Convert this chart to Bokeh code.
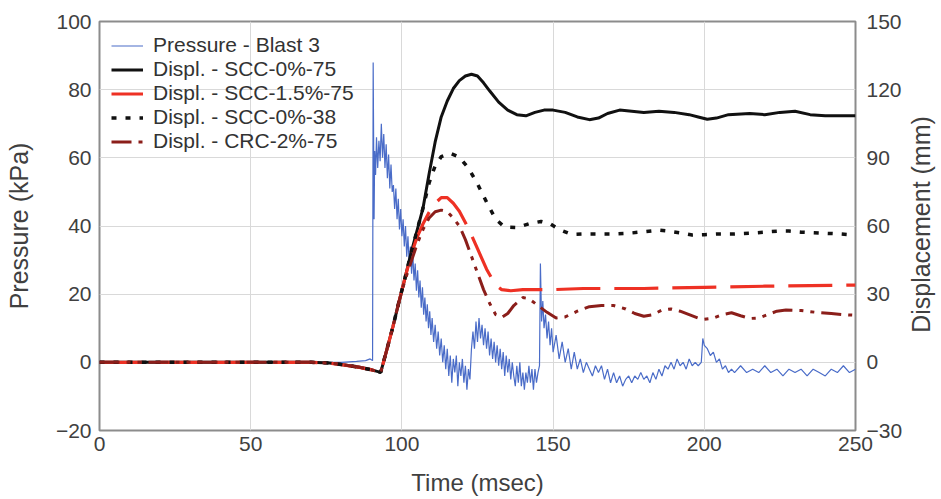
import math
from bokeh.plotting import figure
from bokeh.models import Range1d, LinearAxis, FixedTicker, Label
from bokeh.embed import file_html
from bokeh.resources import INLINE

# ---------------- data ----------------
x_ticks = [0, 50, 100, 150, 200, 250]
p_ticks = [-20, 0, 20, 40, 60, 80, 100]
d_ticks = [-30, 0, 30, 60, 90, 120, 150]

# Pressure - Blast 3 (kPa)
p_time = [0, 20, 40, 60, 80, 85, 88, 89.5, 90.3, 90.5,
          90.8, 91.0, 91.3, 91.6, 92.0, 92.4, 92.8, 93.2, 93.6, 94.0,
          94.4, 94.8, 95.2, 95.6, 96.0, 96.4, 96.8, 97.2, 97.6, 98.0,
          98.4, 98.8, 99.2, 99.6, 100.0, 100.4, 100.8, 101.2, 101.6, 102.0,
          102.4, 102.8, 103.2, 103.6, 104.0, 104.4, 104.8, 105.2, 105.6, 106.0,
          106.4, 106.8, 107.2, 107.6, 108.0, 108.4, 108.8, 109.2, 109.6, 110.0,
          110.5, 111, 111.5, 112, 112.5, 113, 113.5, 114, 114.5, 115,
          115.5, 116, 116.5, 117, 117.5, 118, 118.5, 119, 119.5, 120,
          120.5, 121, 121.5, 122, 122.5, 123, 123.5, 124, 124.5, 125,
          125.5, 126, 126.5, 127, 127.5, 128, 128.5, 129, 129.5, 130,
          130.5, 131, 131.5, 132, 132.5, 133, 133.5, 134, 134.5, 135,
          135.5, 136, 136.5, 137, 137.5, 138, 138.5, 139, 139.5, 140,
          140.5, 141, 141.5, 142, 142.5, 143, 143.5, 144, 144.5, 145,
          145.5, 145.8, 146.2, 146.6, 147, 147.5, 148, 148.5, 149, 149.5,
          150, 151, 152, 153, 154, 155, 156, 157, 158, 159,
          160, 161, 162, 163, 164, 165, 166, 167, 168, 169,
          170, 171, 172, 173, 174, 175, 176, 177, 178, 179,
          180, 181, 182, 183, 184, 185, 186, 187, 188, 189,
          190, 191, 192, 193, 194, 195, 196, 197, 198, 199,
          199.5, 200, 201, 202, 203, 204, 205, 206, 207, 208,
          209, 210, 212, 214, 216, 218, 220, 222, 224, 226,
          228, 230, 232, 234, 236, 238, 240, 242, 244, 246,
          248, 250]
p_kpa = [0, 0, 0, 0, 0, 0.3, 0.5, 1, 0.5, 88,
         42, 62, 55, 66, 57, 65, 59, 70, 60, 67,
         57, 64, 54, 61, 51, 58, 50, 52, 45, 51,
         42, 48, 39, 45, 37, 42, 34, 40, 31, 37,
         29, 34, 26, 32, 24, 29, 21, 27, 19, 24,
         16, 22, 14, 19, 12, 17, 10, 15, 8, 13,
         6, 11, 4, 9, 2, 7, 0, 5, -2, 4,
         -4, 2, -6, 1, -3, 2, -7, 0, -4, 1,
         -6, -1, -8, -2, -5, 4, 9, 4, 12, 6,
         13, 7, 11, 5, 10, 4, 9, 2, 7, 1,
         6, 0, 5, -1, 4, -2, 3, -4, 2, -3,
         1, -5, 0, -4, -7, -1, -6, 0, -7, -3,
         -8, -3, -6, -1, -6, -2, -8, -2, -6, -3,
         -1, 29, 12, 18, 10, 14, 7, 12, 5, 10,
         3, 8, 1, 6, 0, 4, -2, 3, -2, 1,
         -3, 0, -2, -4, -1, -3, -1, -5, -2, -6,
         -3, -6, -4, -7, -5, -4, -6, -4, -5, -3,
         -5, -4, -6, -3, -5, -2, -4, -1, -2, 0,
         -2, 1, -1, 0, -2, 1, -1, 0, -1, 0,
         7, 5, 4, 2, 3, 0, 1, -2, -1, -3,
         -2, -3, -1, -3, -2, -3, -1, -3, -2, -4,
         -2, -3, -2, -4, -2, -3, -4, -2, -3, -1,
         -3, -2]

# Displ. - SCC-0%-75 (mm)
d0_time = [0, 40, 70, 76, 80, 86, 90, 93,
           95, 97, 99, 101, 103, 105, 107, 109, 111, 113,
           115, 117, 119, 121, 123, 125, 127, 129, 132, 135,
           138, 141, 144, 147, 150, 154, 158, 162, 165, 168,
           172, 176, 180, 185, 190, 195, 198, 201, 204, 208,
           215, 220, 225, 230, 235, 240, 245, 250]
d0_mm = [0, 0, 0, -0.3, -1, -2.2, -3.3, -4.4,
         5.5, 15.5, 26.5, 37, 48, 58, 68, 83, 97, 108,
         115, 120.5, 124, 126, 126.8, 126, 123, 119.5, 114.5, 111,
         109, 108.5, 110, 111, 111, 110, 108, 106.8, 107.5, 109.5,
         111, 110.5, 110, 110.5, 110, 109, 108, 107, 107.5, 109,
         109.5, 109, 110, 110.5, 109, 108.5, 108.5, 108.5]

# Displ. - SCC-1.5%-75 (mm)
d1_time = [0, 40, 70, 76, 80, 86, 90, 93,
           95, 97, 99, 101, 103, 105, 107, 109, 111, 113,
           115, 117, 119, 122, 125, 128, 131, 133, 136, 140,
           150, 160, 170, 180, 200, 220, 250]
d1_mm = [0, 0, 0, -0.3, -1, -2.2, -3.3, -4.4,
         5.5, 15.5, 26.5, 37, 47, 55, 61, 66, 70, 72.5,
         72.5, 70, 66.5, 59, 50, 41, 34, 32, 31.5, 32,
         32, 32.5, 32.5, 32.5, 33, 33.5, 34]

# Displ. - SCC-0%-38 (mm)
d2_time = [0, 40, 70, 76, 80, 86, 90, 93,
           95, 97, 99, 101, 103, 105, 107, 109, 111, 113,
           116, 119, 122, 125, 128, 131, 134, 138, 142, 146,
           149, 152, 156, 160, 165, 170, 175, 180, 185, 188,
           192, 196, 200, 205, 210, 215, 220, 225, 228, 232,
           240, 245, 250]
d2_mm = [0, 0, 0, -0.3, -1, -2.2, -3.3, -4.4,
         5.5, 15.5, 26.5, 37, 48, 58, 68, 79, 86.5, 90.5,
         92, 90.3, 85.5, 78.5, 70.5, 63, 59.5, 59.3, 61, 62,
         61, 58.5, 56.3, 56.5, 56.5, 56.5, 56.8, 57.5, 58.2, 57.8,
         57, 56, 56.2, 56.5, 56.5, 56.8, 57.3, 57.8, 57.8, 57.3,
         56.8, 56.5, 56]

# Displ. - CRC-2%-75 (mm)
d3_time = [0, 40, 70, 76, 80, 86, 90, 93,
           95, 97, 99, 101, 103, 105, 107, 109, 111, 113,
           115, 117, 119, 121, 124, 127, 129, 131, 133, 135,
           137, 140, 142, 145, 148, 151, 154, 158, 162, 166,
           170, 174, 177, 180, 183, 186, 189, 192, 195, 198,
           200, 203, 206, 209, 212, 215, 218, 221, 224, 227,
           232, 237, 242, 246, 250]
d3_mm = [0, 0, 0, -0.3, -1, -2.2, -3.3, -4.4,
         5.5, 15.5, 26.5, 36, 44, 52, 58.5, 63.5, 66.3, 67,
         66.3, 63.5, 60, 54, 43, 32, 26, 21, 19.8, 21.5,
         25, 28.5, 28, 25, 22, 19.5, 20, 22.5, 24.5, 25,
         25, 23.5, 21.5, 20.3, 21, 23, 23.5, 22.5, 21, 19.5,
         19, 19.5, 21, 21.8, 20.5, 19.3, 19.5, 21, 22.5, 23,
         22.8, 22, 21.5, 21, 20.7]

# ---------------- figure ----------------
FONT = "Liberation Sans"
TXT = "#404040"

p = figure(width=941, height=499, output_backend="svg", toolbar_location=None,
           x_range=Range1d(0, 250), y_range=Range1d(-20, 100),
           min_border_left=99, min_border_right=86, min_border_top=21,
           min_border_bottom=69, background_fill_color="white",
           border_fill_color="white")
p.extra_y_ranges = {"disp": Range1d(-30, 150)}
p.outline_line_color = "#8c8c8c"
p.outline_line_width = 2

right_axis = LinearAxis(y_range_name="disp")
p.add_layout(right_axis, "right")

p.xaxis.ticker = FixedTicker(ticks=x_ticks)
p.yaxis[0].ticker = FixedTicker(ticks=p_ticks)
right_axis.ticker = FixedTicker(ticks=d_ticks)

p.xaxis.axis_label = "Time (msec)"
p.yaxis[0].axis_label = "Pressure (kPa)"

for ax in [p.xaxis[0], p.yaxis[0], right_axis]:
    ax.axis_line_color = None
    ax.major_tick_line_color = None
    ax.minor_tick_line_color = None
    ax.major_tick_out = 0
    ax.major_tick_in = 0
    ax.minor_tick_out = 0
    ax.minor_tick_in = 0
    ax.major_label_text_font = FONT
    ax.major_label_text_font_size = "21px"
    ax.major_label_text_color = TXT
    ax.axis_label_text_font = FONT
    ax.axis_label_text_font_size = "25px"
    ax.axis_label_text_font_style = "normal"
    ax.axis_label_text_color = TXT

p.xaxis.axis_label_text_font_size = "24px"
p.xaxis.major_label_standoff = 6
p.xaxis.axis_label_standoff = 15
p.yaxis[0].major_label_standoff = 8
p.yaxis[0].axis_label_standoff = 20
right_axis.major_label_standoff = 11

# right axis title in a side panel, reading bottom to top like the left one
right_title = Label(x=15, y=206, x_units="screen", y_units="screen",
                    text="Displacement (mm)", angle=math.pi / 2,
                    text_align="center", text_baseline="middle",
                    text_font=FONT, text_font_size="25px", text_color=TXT)
p.add_layout(right_title, "right")

p.xgrid.ticker = FixedTicker(ticks=x_ticks)
p.ygrid.ticker = FixedTicker(ticks=p_ticks)
p.xgrid.grid_line_color = "#d9d9d9"
p.ygrid.grid_line_color = "#d9d9d9"

# ---------------- series ----------------
p.line(p_time, p_kpa, color="#4a6cc8", line_width=1.2,
       legend_label="Pressure - Blast 3")
p.line(d0_time, d0_mm, y_range_name="disp", color="#111111", line_width=3,
       legend_label="Displ. - SCC-0%-75")
p.line(d1_time, d1_mm, y_range_name="disp", color="#ee3124", line_width=3.2,
       line_dash="44 14", legend_label="Displ. - SCC-1.5%-75")
p.line(d2_time, d2_mm, y_range_name="disp", color="#111111", line_width=3.5,
       line_dash="5 9", legend_label="Displ. - SCC-0%-38")
p.line(d3_time, d3_mm, y_range_name="disp", color="#8b1e1a", line_width=3,
       line_dash="20 7 4 7 4 7", legend_label="Displ. - CRC-2%-75")

lg = p.legend[0]
lg.location = "top_left"
lg.margin = 12
lg.padding = 0
lg.spacing = -3
lg.glyph_width = 32
lg.glyph_height = 21
lg.label_height = 21
lg.label_standoff = 10
lg.label_text_font = FONT
lg.label_text_font_size = "21px"
lg.label_text_color = "#333333"
lg.border_line_color = None
lg.background_fill_alpha = 0

open("out.html", "w").write(file_html(p, INLINE))
